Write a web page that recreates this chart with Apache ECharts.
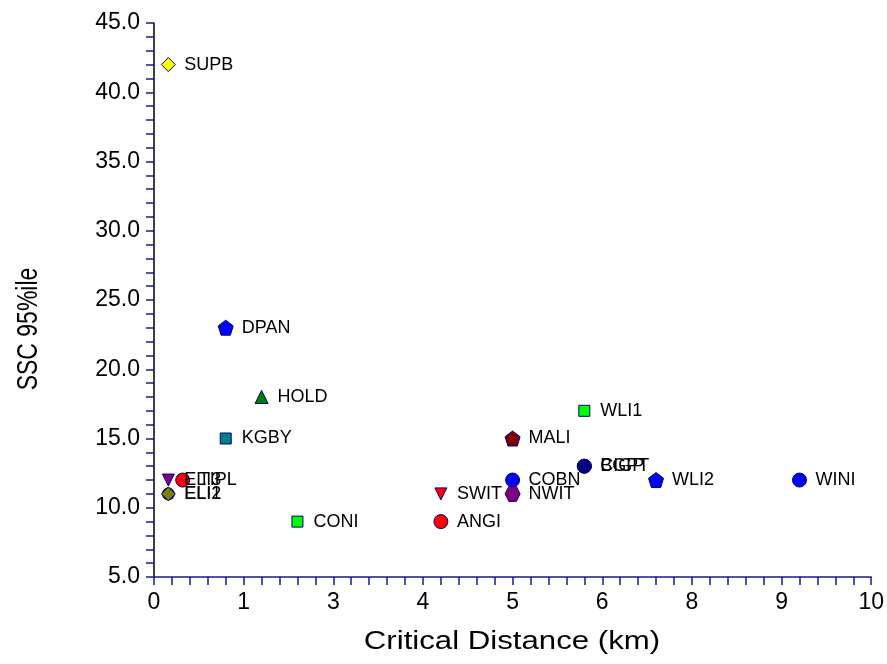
<!DOCTYPE html>
<html><head><meta charset="utf-8">
<script src="https://cdn.jsdelivr.net/npm/echarts@6/dist/echarts.min.js"></script>
<style>html,body{margin:0;padding:0;background:#fff}#c{width:887px;height:664px}</style>
</head><body><div id="c"></div>
<script>
// Site names, critical distance (km), SSC 95%ile
const sites = ['SUPB','DPAN','HOLD','KGBY','ELI1','ELI2','ELI3','TIPL','CONI','ANGI','SWIT','MALI','COBN','NWIT','CIGP','BGPT','WLI1','WLI2','WINI'];
const distance = [0.2, 1.0, 1.5, 1.0, 0.2, 0.2, 0.2, 0.4, 2.0, 4.0, 4.0, 5.0, 5.0, 5.0, 6.0, 6.0, 6.0, 7.0, 9.0];
const ssc = [42, 23, 18, 15, 11, 11, 12, 12, 9, 9, 11, 15, 12, 11, 13, 13, 17, 12, 12];
const xTitle = 'Critical Distance (km)';
const yTitle = 'SSC 95%ile';

const pent = 'path://M0,-10 L9.51,-3.09 L5.88,8.09 L-5.88,8.09 L-9.51,-3.09 Z';
const hexa = 'path://M-5,-8.66 L5,-8.66 L10,0 L5,8.66 L-5,8.66 L-10,0 Z';
const styleBySite = {
  SUPB:{s:'diamond',c:'#ffff00',z:14},
  DPAN:{s:pent,c:'#0000ff',z:15},
  HOLD:{s:'triangle',c:'#008000',z:13},
  KGBY:{s:'rect',c:'#008080',z:11},
  ELI1:{s:'circle',c:'#0000ff',z:12},
  ELI2:{s:'diamond',c:'#808000',z:14},
  ELI3:{s:'triangle',c:'#800080',z:12,r:180},
  TIPL:{s:'circle',c:'#ff0000',z:14},
  CONI:{s:'rect',c:'#00ff00',z:11},
  ANGI:{s:'circle',c:'#ff0000',z:14},
  SWIT:{s:'triangle',c:'#ff0000',z:12,r:180},
  MALI:{s:pent,c:'#800000',z:15},
  COBN:{s:'circle',c:'#0000ff',z:14},
  NWIT:{s:hexa,c:'#800080',z:15},
  CIGP:{s:'circle',c:'#000080',z:14},
  BGPT:{s:'circle',c:'#000080',z:14},
  WLI1:{s:'rect',c:'#00ff00',z:11},
  WLI2:{s:pent,c:'#0000ff',z:15},
  WINI:{s:'circle',c:'#0000ff',z:14}
};

const data = sites.map((n,i)=>{
  const st = styleBySite[n];
  return {
    name:n, value:[distance[i], ssc[i]],
    symbol:st.s, symbolSize:st.z, symbolRotate:st.r||0,
    itemStyle:{color:st.c, borderColor:'#000080', borderWidth:1, opacity:1},
    label:{distance: 8 + (15-st.z)/2}
  };
});

const chart = echarts.init(document.getElementById('c'), null, {renderer:'canvas'});
const tickColor = '#1a1a8c';
chart.setOption({
  animation:false,
  backgroundColor:'#ffffff',
  grid:{left:154, right:15, top:23, bottom:87, containLabel:false},
  graphic:[{
    type:'text', x:29, y:329, rotation:Math.PI/2, scaleY:1.3,
    style:{text:yTitle, font:'23px "Liberation Sans"', fill:'#000',
      align:'center', verticalAlign:'middle', textAlign:'center', textVerticalAlign:'middle'}
  },{
    type:'text', x:512, y:642, scaleX:1.2,
    style:{text:xTitle, font:'26px "Liberation Sans"', fill:'#000',
      align:'center', verticalAlign:'middle', textAlign:'center', textVerticalAlign:'middle'}
  }],
  xAxis:{
    type:'value', min:0, max:10, interval:1.25,
    axisLine:{show:true, onZero:false, lineStyle:{color:tickColor, width:1.5}},
    axisTick:{show:true, inside:false, length:8, lineStyle:{color:tickColor, width:1.5}},
    minorTick:{show:true, splitNumber:5, length:8, lineStyle:{color:tickColor, width:1.5}},
    axisLabel:{margin:14, fontFamily:'Liberation Sans', fontSize:23, color:'#000',
      formatter:v=>String(Math.round(v))},
    splitLine:{show:false}
  },
  yAxis:{
    type:'value', min:5, max:45, interval:5,
    axisLine:{show:true, onZero:false, lineStyle:{color:'#000', width:1.5}},
    axisTick:{show:true, inside:false, length:8, lineStyle:{color:tickColor, width:1.5}},
    minorTick:{show:true, splitNumber:5, length:8, lineStyle:{color:tickColor, width:1.5}},
    axisLabel:{margin:14, fontFamily:'Liberation Sans', fontSize:23, color:'#000',
      formatter:v=>v.toFixed(1)},
    splitLine:{show:false}
  },
  series:[{
    type:'scatter',
    data:data,
    label:{show:true, position:'right', formatter:p=>p.name,
      fontFamily:'Liberation Sans', fontSize:18, color:'#000'},
    emphasis:{disabled:true}
  }]
});
</script></body></html>
